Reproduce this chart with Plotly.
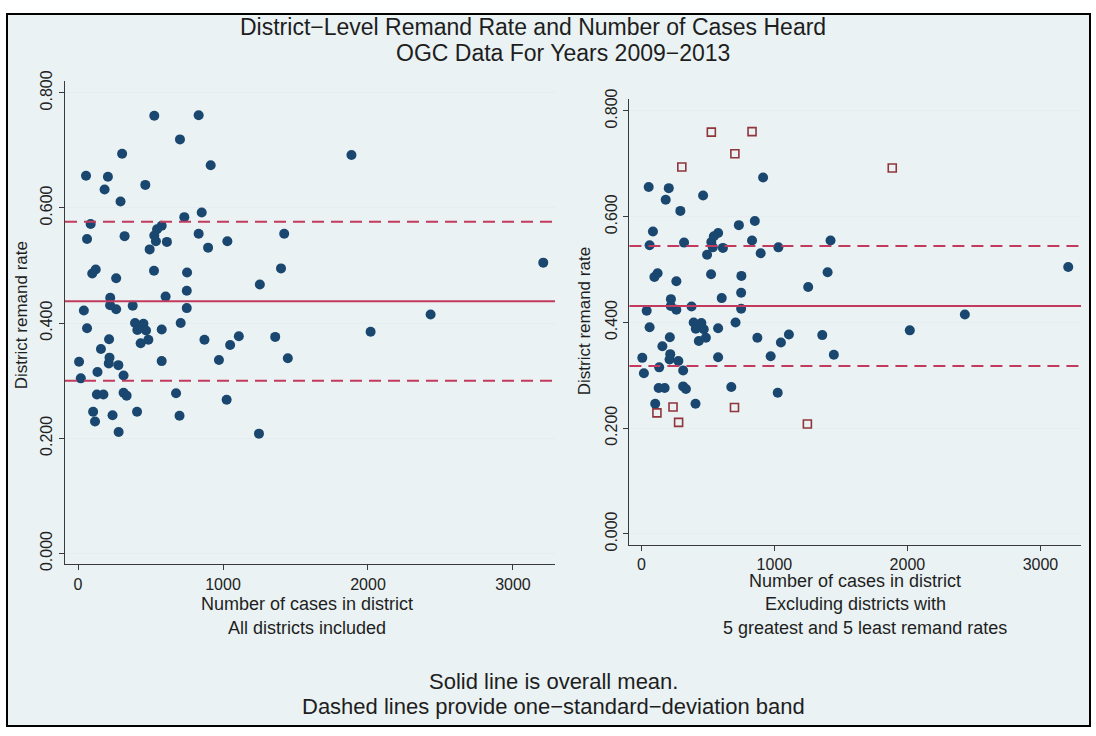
import plotly.graph_objects as go

# ---------------- data ----------------
cases = [526, 832, 703, 304, 915, 55, 206, 183, 464, 293, 853, 733, 87, 577, 545,
         832, 1422, 62, 321, 526, 537, 494, 613, 897, 1030, 1400,
         98, 122, 263, 524, 752, 1254, 750, 222, 604, 221, 263, 377, 750, 40, 62,
         393, 451, 409, 469, 432, 485, 577, 708, 872, 1049, 1109, 1360, 1447, 972,
         577, 214, 158, 217, 212, 278, 7, 134, 19, 314, 130, 175, 314, 335, 676,
         1025, 104, 117, 238, 407, 700, 280, 1248,
         1886, 3209, 2018, 2432]
remand_rate = [0.760, 0.761, 0.719, 0.694, 0.674, 0.656, 0.654, 0.632, 0.640, 0.611,
               0.592, 0.584, 0.572, 0.569, 0.563, 0.555, 0.555, 0.546, 0.551, 0.552,
               0.542, 0.528, 0.541, 0.531, 0.542, 0.495,
               0.486, 0.493, 0.478, 0.491, 0.488, 0.467, 0.456, 0.444, 0.446, 0.431,
               0.424, 0.430, 0.426, 0.422, 0.391, 0.400, 0.399, 0.388, 0.387, 0.365,
               0.371, 0.389, 0.400, 0.371, 0.362, 0.377, 0.376, 0.339, 0.336, 0.334,
               0.372, 0.355, 0.340, 0.330, 0.327, 0.333, 0.315, 0.304, 0.309, 0.276,
               0.276, 0.279, 0.274, 0.278, 0.267, 0.246, 0.229, 0.240, 0.246, 0.239,
               0.211, 0.208,
               0.692, 0.505, 0.385, 0.415]
n_extreme = 5

# mean and mean +/- one SD lines, as drawn in the reference
band_all = [0.300, 0.438, 0.576]
band_trimmed = [0.3175, 0.431, 0.5446]

x_ticks = [0, 1000, 2000, 3000]
y_ticks = [0.0, 0.2, 0.4, 0.6, 0.8]
y_tick_labels = ["0.000", "0.200", "0.400", "0.600", "0.800"]

title_lines = ["District\u2212Level Remand Rate and Number of Cases Heard",
               "OGC Data For Years 2009\u22122013"]
note_lines = ["Solid line is overall mean.",
              "Dashed lines provide one\u2212standard\u2212deviation band"]

# ---------------- derived: excluded extremes ----------------
order = sorted(range(len(remand_rate)), key=lambda i: remand_rate[i])
excluded = set(order[:n_extreme]) | set(order[-n_extreme:])
kept_x = [cases[i] for i in range(len(cases)) if i not in excluded]
kept_y = [remand_rate[i] for i in range(len(cases)) if i not in excluded]
exc_x = [cases[i] for i in range(len(cases)) if i in excluded]
exc_y = [remand_rate[i] for i in range(len(cases)) if i in excluded]

# ---------------- layout geometry ----------------
W, H = 1096, 736
def fx(p):
    return p / W
def fy(p):
    return 1 - p / H

NAVY = "#1A476F"
MAROON = "#90353B"
LINE = "#C23B5E"
BG = "#EAF2F3"
FONT = "Liberation Sans, Arial, sans-serif"

fig = go.Figure()

fig.add_trace(go.Scatter(x=cases, y=remand_rate, mode="markers", xaxis="x", yaxis="y",
                         marker=dict(color=NAVY, size=10, line=dict(width=0)),
                         showlegend=False, hoverinfo="x+y"))
fig.add_trace(go.Scatter(x=kept_x, y=kept_y, mode="markers", xaxis="x2", yaxis="y2",
                         marker=dict(color=NAVY, size=10, line=dict(width=0)),
                         showlegend=False, hoverinfo="x+y"))
fig.add_trace(go.Scatter(x=exc_x, y=exc_y, mode="markers", xaxis="x2", yaxis="y2",
                         marker=dict(color=MAROON, size=8, symbol="square-open",
                                     line=dict(width=1.6, color=MAROON)),
                         showlegend=False, hoverinfo="x+y"))

shapes = []
# outer frame / graph region
shapes.append(dict(type="rect", xref="paper", yref="paper",
                   x0=fx(7), x1=fx(1090), y0=fy(733), y1=fy(3),
                   fillcolor=BG, line=dict(color="black", width=2), layer="below"))
for band, xr, yr in [(band_all, "x domain", "y"), (band_trimmed, "x2 domain", "y2")]:
    for k, v in enumerate(band):
        shapes.append(dict(type="line", xref=xr, yref=yr, x0=0, x1=1, y0=v, y1=v,
                           line=dict(color=LINE, width=2,
                                     dash="solid" if k == 1 else "12px,7px")))

axis_common = dict(showline=True, linecolor="#3A3A3A", linewidth=1.4,
                   ticks="outside", ticklen=5, tickcolor="#3A3A3A", tickwidth=1.2,
                   tickfont=dict(family=FONT, size=16, color="#222"),
                   zeroline=False)

layout = dict(
    width=W, height=H, margin=dict(l=0, r=0, t=0, b=0),
    paper_bgcolor="white", plot_bgcolor="white",
    font=dict(family=FONT, color="#222"),
    shapes=shapes,
    xaxis=dict(domain=[fx(65), fx(555)], range=[-90, 3290], anchor="y",
               tickvals=x_ticks, showgrid=False, **axis_common),
    yaxis=dict(domain=[fy(567), fy(72)], range=[-0.0186, 0.820], anchor="x",
               tickvals=y_ticks, ticktext=y_tick_labels, tickangle=-90,
               showgrid=True, gridcolor="#E6EDF0", gridwidth=1, **axis_common),
    xaxis2=dict(domain=[fx(629.4), fx(1081)], range=[-90, 3305], anchor="y2",
                tickvals=x_ticks, showgrid=False, **axis_common),
    yaxis2=dict(domain=[fy(547), fy(90)], range=[-0.0203, 0.823], anchor="x2",
                tickvals=y_ticks, ticktext=y_tick_labels, tickangle=-90,
                showgrid=True, gridcolor="#E6EDF0", gridwidth=1, **axis_common),
)
fig.update_layout(**layout)

def ann(text, x, y, size, angle=0):
    fig.add_annotation(text=text, xref="paper", yref="paper", x=fx(x), y=fy(y),
                       xanchor="center", yanchor="middle", showarrow=False,
                       textangle=angle, font=dict(family=FONT, size=size, color="#1E1E1E"))

ann(title_lines[0], 533, 16, 23)
ann(title_lines[1], 563, 43, 23)
ann("Number of cases in district", 307, 608, 18)
ann("All districts included", 307, 632, 18)
ann("Number of cases in district", 855, 584, 18)
ann("Excluding districts with", 855, 608, 18)
ann("5 greatest and 5 least remand rates", 865, 632, 18)
ann("District remand rate", 21, 312, 17, -90)
ann("District remand rate", 584, 318, 17, -90)
ann(note_lines[0], 553, 687, 22)
ann(note_lines[1], 553, 713, 22)

fig.write_html("out.html", config={"displayModeBar": False},
               post_script="document.body.style.margin='0';document.body.style.overflow='hidden';")
